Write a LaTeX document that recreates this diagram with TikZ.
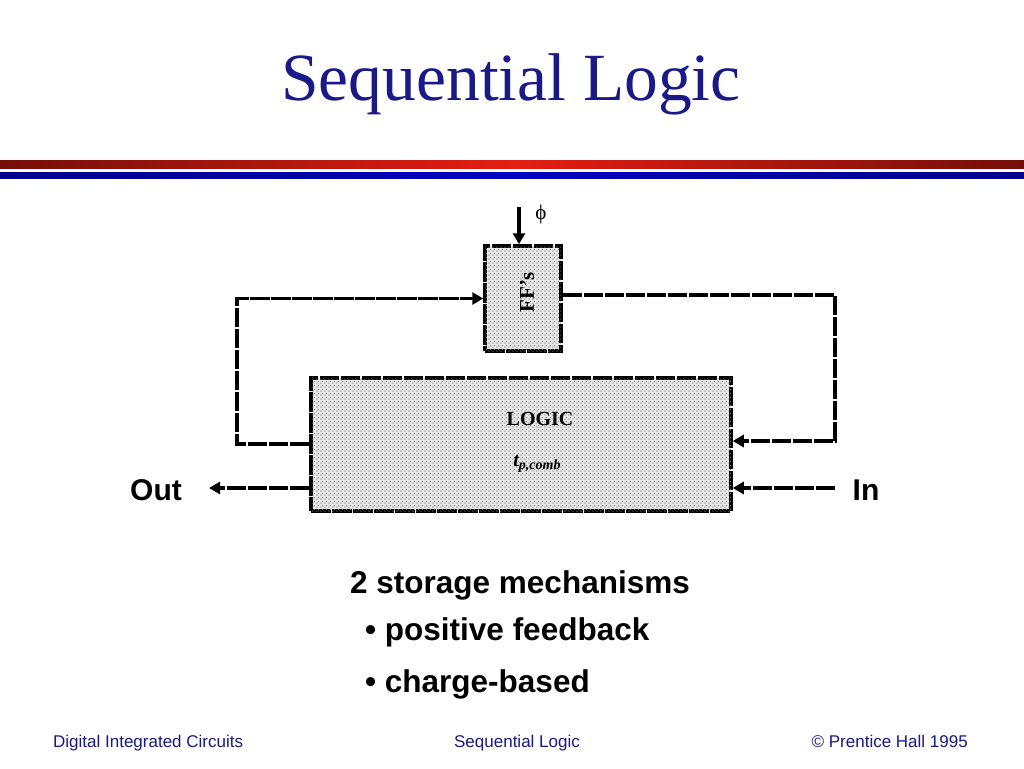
\documentclass[tikz,border=0pt]{standalone}
\usepackage{fontspec}
\setmainfont{Liberation Serif}
\newfontfamily\arialfont{Liberation Sans}
\usetikzlibrary{arrows.meta,patterns,calc}
\pgfdeclarepatternformonly{sdots}{\pgfqpoint{0pt}{0pt}}{\pgfqpoint{4pt}{4pt}}{\pgfqpoint{4pt}{4pt}}{%
  \pgfpathrectangle{\pgfqpoint{0.4pt}{0.4pt}}{\pgfqpoint{1.2pt}{1.2pt}}%
  \pgfpathrectangle{\pgfqpoint{2.4pt}{2.4pt}}{\pgfqpoint{1.2pt}{1.2pt}}%
  \pgfusepath{fill}}
\definecolor{navy}{RGB}{25,25,135}
\definecolor{darkred}{RGB}{115,15,8}
\definecolor{brightred}{RGB}{228,30,20}
\definecolor{darkblue}{RGB}{0,0,140}
\definecolor{brightblue}{RGB}{0,0,190}
\tikzset{
  dbox/.style={draw=black, line width=3.5pt, dash pattern=on 19.5pt off 1.5pt,
    fill=black!9, postaction={pattern=sdots, pattern color=black!50},
    inner sep=0pt},
  sig/.style={draw=black, line width=3.5pt, dash pattern=on 19.5pt off 1.5pt},
  tip/.style={-{Triangle[length=11pt,width=12pt]}},
  lbl/.style={font=\arialfont\bfseries\fontsize{30}{30}\selectfont, anchor=base, inner sep=0pt},
  body/.style={font=\arialfont\bfseries\fontsize{31.5}{31.5}\selectfont, anchor=base west, inner sep=0pt},
  foot/.style={font=\arialfont\fontsize{17}{17}\selectfont, text=navy, inner sep=0pt},
}
\begin{document}
\begin{tikzpicture}[x=1pt,y=-1pt]
\useasboundingbox (0,0) rectangle (1024,768);
\fill[white] (0,0) rectangle (1024,768);
% title
\node[anchor=base, inner sep=0pt, text=navy, font=\fontsize{67.5}{67.5}\selectfont] (title) at (511,100) {Sequential Logic};
% header bands
\shade[left color=darkred, right color=darkred, middle color=brightred] (0,160) rectangle (1024,168);
\shade[left color=darkblue, right color=darkblue, middle color=brightblue] (0,172) rectangle (1024,178);
% boxes
\node[dbox, minimum width=76pt, minimum height=105pt] (ff) at (523,298.5) {};
\node[rotate=90, font=\bfseries\fontsize{21}{21}\selectfont] (fflbl) at (527,292) {FF’s};
\node[dbox, minimum width=420pt, minimum height=133pt] (logic) at (521,444.5) {};
\node[anchor=base, font=\bfseries\fontsize{20}{20}\selectfont] (logiclbl) at (540,425) {LOGIC};
\node[anchor=base, font=\bfseries\itshape\fontsize{20}{20}\selectfont] (tp) at (537,466) {t\raisebox{-0.35ex}{\fontsize{14}{14}\selectfont p,comb}};
% clock
\coordinate (clk) at (519,207);
\draw[line width=3.5pt, tip] (clk) -- (clk |- ff.north);
\node[font=\fontsize{21}{21}\selectfont] (phi) at (541,214) {ϕ};
% feedback left
\coordinate (fl) at (237,444);
\draw[sig, tip] (logic.west |- fl) -- (fl) |- (ff.west);
% feedback right
\coordinate (fr) at (835,295);
\coordinate (frb) at (835,441);
\draw[sig, tip] (ff.east |- fr) -- (fr) -- (frb) -- (logic.east |- frb);
% in / out
\coordinate (inpt) at (835,488);
\coordinate (outpt) at (209,488);
\draw[sig, tip] (inpt) -- (logic.east |- inpt);
\draw[sig, tip] (logic.west |- outpt) -- (outpt);
\node[lbl] (outlbl) at (156,500) {Out};
\node[lbl] (inlbl) at (866,500) {In};
% body text
\node[body] (t1) at (350,593) {2 storage mechanisms};
\node[body] (t2) at (365,640) {• positive feedback};
\node[body] (t3) at (365,692) {• charge-based};
% footer
\node[foot, anchor=base west] (f1) at (53,747) {Digital Integrated Circuits};
\node[foot, anchor=base] (f2) at (517,747) {Sequential Logic};
\node[foot, anchor=base east] (f3) at (968,747) {© Prentice Hall 1995};
\end{tikzpicture}
\end{document}
